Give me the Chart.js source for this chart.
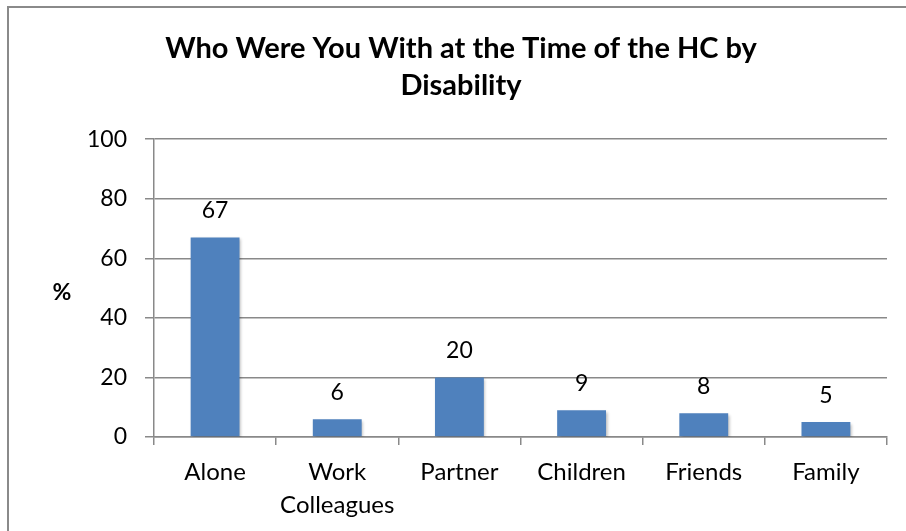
<!DOCTYPE html>
<html>
<head>
<meta charset="utf-8">
<script src="https://cdn.jsdelivr.net/npm/chart.js@4"></script>
<style>
html,body{margin:0;padding:0;background:#fff;}
#wrap{width:906px;height:531px;position:relative;}
</style>
</head>
<body>
<div id="wrap"><canvas id="c" width="906" height="531"></canvas></div>
<script>
const categories = [["Alone"], ["Work", "Colleagues"], ["Partner"], ["Children"], ["Friends"], ["Family"]];
const values = [67, 6, 20, 9, 8, 5];
const yTicks = [0, 20, 40, 60, 80, 100];
const titleLines = ["Who Were You With at the Time of the HC by", "Disability"];
const yAxisLabel = "%";

const FONT = "Lato, 'Open Sans', sans-serif";
const GRID = "#898989";

const decor = {
  id: 'decor',
  beforeDraw(chart) {
    const ctx = chart.ctx;
    ctx.save();
    ctx.strokeStyle = '#8a8a8a';
    ctx.lineWidth = 2;
    ctx.strokeRect(8, 7, 1000, 1000);
    ctx.restore();
  },
  beforeDatasetsDraw(chart) {
    const ctx = chart.ctx;
    ctx.save();
    ctx.shadowColor = 'rgba(0,0,0,0.28)';
    ctx.shadowBlur = 3;
    ctx.shadowOffsetX = 1.5;
    ctx.shadowOffsetY = 1.5;
  },
  afterDatasetsDraw(chart) {
    const ctx = chart.ctx;
    ctx.restore();
    const meta = chart.getDatasetMeta(0);
    ctx.save();
    ctx.fillStyle = '#000';
    ctx.font = "23px " + FONT;
    ctx.textAlign = 'center';
    ctx.textBaseline = 'middle';
    meta.data.forEach((bar, i) => {
      ctx.fillText(String(values[i]), bar.x, bar.y - 27);
    });
    ctx.font = "bold 23px " + FONT;
    ctx.fillText(yAxisLabel, 62, 293);
    ctx.restore();
  }
};

new Chart(document.getElementById('c'), {
  type: 'bar',
  data: {
    labels: categories,
    datasets: [{
      data: values,
      backgroundColor: '#4F81BD',
      barPercentage: 0.4,
      categoryPercentage: 1.0
    }]
  },
  options: {
    responsive: false,
    animation: false,
    layout: { padding: { left: 35, right: 19, top: 0, bottom: 0 } },
    plugins: {
      legend: { display: false },
      tooltip: { enabled: false },
      title: {
        display: true,
        text: titleLines,
        color: '#000',
        font: { family: FONT, size: 29, weight: 'bold', lineHeight: 1.28 },
        padding: { top: 30, bottom: 35 }
      }
    },
    scales: {
      x: {
        offset: true,
        grid: { display: true, drawOnChartArea: false, drawTicks: true, tickLength: 8, color: GRID, offset: true, lineWidth: 1.5 },
        border: { display: true, color: GRID, width: 1.5 },
        ticks: { color: '#000', font: { family: FONT, size: 24, lineHeight: 1.375 }, padding: 11, maxRotation: 0, autoSkip: false },
        afterFit(scale) { scale.height = 94; }
      },
      y: {
        min: 0, max: 100,
        afterBuildTicks(scale) { scale.ticks = yTicks.map(v => ({ value: v })); },
        grid: { color: GRID, tickLength: 9, lineWidth: 1.5 },
        border: { display: true, color: GRID, width: 1.5 },
        ticks: { color: '#000', font: { family: FONT, size: 23 }, padding: 18 },
        afterFit(scale) { scale.width = 119; }
      }
    }
  },
  plugins: [decor]
});
</script>
</body>
</html>
